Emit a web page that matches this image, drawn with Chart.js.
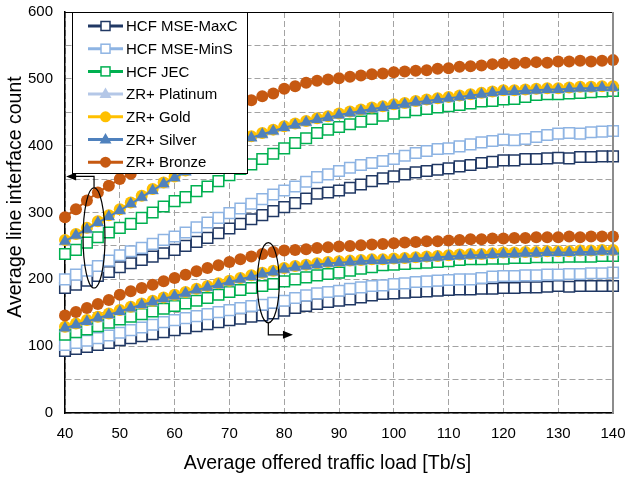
<!DOCTYPE html>
<html>
<head>
<meta charset="utf-8">
<script src="https://cdn.jsdelivr.net/npm/chart.js@4.4.0/dist/chart.umd.min.js"></script>
<style>
  html, body { margin: 0; padding: 0; background: #fff; }
  #wrap { position: relative; width: 626px; height: 479px; }
</style>
</head>
<body>
<div id="wrap"><canvas id="chart"></canvas></div>
<script>
// Offered load (x) for every sample
const loads = [40,42,44,46,48,50,52,54,56,58,60,62,64,66,68,70,72,74,76,78,80,82,84,86,88,90,92,94,96,98,100,102,104,106,108,110,112,114,116,118,120,122,124,126,128,130,132,134,136,138,140];

// Upper group (left axis)
const maxcUpper = [187,192,198,205,211,218,224,229,234,239,244,250,256,262,269,276,283,290,296,302,308,314,321,328,330,333,337,342,347,351,354,357,360,362,364,366,369,371,374,376,378,378,380,380,381,382,381,383,383,384,384];
const minsUpper = [200,207,213,220,228,236,242,247,253,259,264,270,278,285,292,299,306,313,320,327,333,339,346,353,357,362,367,371,374,377,380,385,389,392,395,396,399,402,405,407,409,408,410,413,416,418,419,418,420,421,422];
const jecUpper = [238,244,255,263,270,277,283,292,300,309,317,323,332,339,347,356,365,372,380,388,396,404,411,419,424,428,432,436,440,445,448,450,453,455,457,459,461,463,466,467,469,470,473,476,477,477,478,479,480,481,482];
const platinumUpper = [256,265,274,284,293,302,312,322,332,341,351,360,369,379,388,397,405,411,416,421,426,430,434,438,441,445,448,451,454,456,459,461,464,466,468,470,472,474,476,478,480,480,481,482,483,483,484,485,485,486,486];
const goldUpper = [259,268,277,287,296,305,315,325,335,345,354,363,372,382,391,400,408,414,419,424,429,433,437,441,444,448,451,454,457,459,462,464,467,469,471,473,475,477,479,481,483,483,484,485,486,486,487,488,488,489,489];
const silverUpper = [257,266,275,285,294,303,313,323,333,343,352,361,370,380,389,398,406,412,417,422,427,431,435,439,442,446,449,452,455,457,460,462,465,467,469,471,473,475,477,479,481,481,482,483,484,484,485,486,486,487,487];
const bronzeUpper = [293,305,318,330,340,350,358,370,382,396,408,417,426,436,444,452,460,468,474,478,485,489,494,497,499,501,503,505,507,508,510,511,512,513,515,516,518,519,520,522,523,523,524,525,524,526,526,527,526,527,528];

// Lower group (right axis)
const maxcLower = [93,96,99,102,105,109,112,115,118,121,124,127,130,133,136,139,141,144,146,149,153,157,160,163,166,168,170,173,176,178,179,180,181,182,183,184,185,185,186,186,187,187,188,188,189,190,189,190,190,190,190];
const minsLower = [102,105,108,112,116,120,124,128,132,136,139,142,145,148,151,154,157,160,162,165,168,172,176,179,181,183,186,188,190,191,193,194,196,197,198,199,200,200,202,204,205,205,206,206,207,207,208,208,209,209,210];
const jecLower = [117,121,125,130,135,140,144,148,152,156,160,164,168,172,177,181,184,187,190,193,197,200,203,206,208,210,213,216,218,221,222,223,224,225,226,227,229,230,230,231,231,232,232,233,233,233,234,234,234,235,235];
const platinumLower = [126,131,136,141,146,151,156,161,165,170,174,178,183,187,191,195,199,203,207,210,214,217,219,221,223,224,225,226,227,227,228,229,230,231,232,233,234,235,235,236,237,237,238,238,239,239,239,240,240,241,241];
const goldLower = [129,134,139,144,149,154,159,164,168,173,177,181,186,190,194,198,202,206,210,213,217,220,222,224,226,227,228,229,230,230,231,232,233,234,235,236,237,238,238,239,240,240,241,241,242,242,242,243,243,244,244];
const silverLower = [127,132,137,142,147,152,157,162,166,171,175,179,184,188,192,196,200,204,208,211,215,218,220,222,224,225,226,227,228,228,229,230,231,232,233,234,235,236,236,237,238,238,239,239,240,240,240,241,241,242,242];
const bronzeLower = [146,151,157,163,169,177,182,187,192,197,202,207,212,217,221,226,230,234,238,241,243,244,245,247,248,249,250,251,252,253,254,255,256,257,257,258,259,260,260,261,261,262,262,263,263,263,264,263,264,264,264];

const seriesNames = ['HCF MSE-MaxC', 'HCF MSE-MinS', 'HCF JEC', 'ZR+ Platinum', 'ZR+ Gold', 'ZR+ Silver', 'ZR+ Bronze'];
const seriesColors = ['#203864', '#8EB4E3', '#00B050', '#B4C7E7', '#FFC000', '#4F81BD', '#C65911'];
const seriesMarkers = ['rect', 'rect', 'rect', 'triangle', 'circle', 'triangle', 'circle'];
const upperSeries = [maxcUpper, minsUpper, jecUpper, platinumUpper, goldUpper, silverUpper, bronzeUpper];
const lowerSeries = [maxcLower, minsLower, jecLower, platinumLower, goldLower, silverLower, bronzeLower];

const xTicks = [40, 50, 60, 70, 80, 90, 100, 110, 120, 130, 140];
const yTicks = [0, 100, 200, 300, 400, 500, 600];
const xTitle = 'Average offered traffic load [Tb/s]';
const yTitle = 'Average line interface count';

// group markers (data units): ellipse centre, half sizes, arrow elbow / end
const leftMark = { x: 45.3, y: 262, rx: 2, ry: 75, elbowY: 354, toX: 40.2 };
const rightMark = { x: 77.1, y: 195, rx: 2, ry: 60, elbowY: 117, toX: 81.6 };

const FONT = "'Liberation Sans', Arial, sans-serif";

function pointRadius(marker) {
    if (marker === 'rect') return 7.5;
    if (marker === 'triangle') return 7;
    return 6;
}

function makeDataset(i, values) {
    const marker = seriesMarkers[i];
    const hollow = marker === 'rect';
    return {
        label: seriesNames[i],
        data: loads.map((x, k) => ({ x: x, y: values[k] })),
        borderColor: seriesColors[i],
        backgroundColor: seriesColors[i],
        borderWidth: 2,
        pointStyle: marker,
        pointRadius: pointRadius(marker),
        pointBorderWidth: hollow ? 1.5 : 0,
        pointBackgroundColor: hollow ? '#ffffff' : seriesColors[i],
        pointBorderColor: seriesColors[i],
        tension: 0,
        fill: false,
        clip: false,
        order: 6 - i
    };
}

const datasets = [];
upperSeries.forEach((vals, i) => datasets.push(makeDataset(i, vals)));
lowerSeries.forEach((vals, i) => datasets.push(makeDataset(i, vals)));

function drawMarker(ctx, marker, color, x, y) {
    ctx.save();
    ctx.fillStyle = color;
    ctx.strokeStyle = color;
    if (marker === 'rect') {
        ctx.fillStyle = '#fff';
        ctx.lineWidth = 1.5;
        ctx.fillRect(x - 4.5, y - 4.5, 9, 9);
        ctx.strokeRect(x - 4.5, y - 4.5, 9, 9);
    } else if (marker === 'circle') {
        ctx.beginPath();
        ctx.arc(x, y, 5.5, 0, Math.PI * 2);
        ctx.fill();
    } else {
        ctx.beginPath();
        ctx.moveTo(x, y - 6.5);
        ctx.lineTo(x + 6, y + 4);
        ctx.lineTo(x - 6, y + 4);
        ctx.closePath();
        ctx.fill();
    }
    ctx.restore();
}

function arrowHead(ctx, x, y, dir) {
    ctx.beginPath();
    ctx.moveTo(x, y);
    ctx.lineTo(x - dir * 10, y - 4);
    ctx.lineTo(x - dir * 10, y + 4);
    ctx.closePath();
    ctx.fill();
}

const decorPlugin = {
    id: 'decor',
    afterDraw(chart) {
        const ctx = chart.ctx;
        const area = chart.chartArea;
        const xs = chart.scales.x;
        const ys = chart.scales.y;

        // frame top and right
        ctx.save();
        ctx.strokeStyle = '#000';
        ctx.lineWidth = 1;
        ctx.beginPath();
        ctx.moveTo(area.left, area.top + 0.5);
        ctx.lineTo(area.right, area.top + 0.5);
        ctx.stroke();
        ctx.strokeStyle = '#8c8c8c';
        ctx.lineWidth = 2;
        ctx.beginPath();
        ctx.moveTo(area.right, area.top);
        ctx.lineTo(area.right, area.bottom);
        ctx.stroke();
        ctx.restore();

        // axis titles (slightly off-centre, as in the original figure)
        ctx.save();
        ctx.fillStyle = '#000';
        ctx.font = '19.5px ' + FONT;
        ctx.textAlign = 'center';
        ctx.textBaseline = 'middle';
        ctx.fillText(xTitle, 327.5, 464);
        ctx.translate(16, 197);
        ctx.rotate(-Math.PI / 2);
        ctx.fillText(yTitle, 0, 0);
        ctx.restore();

        // group ellipses and arrows
        ctx.save();
        ctx.strokeStyle = '#000';
        ctx.fillStyle = '#000';
        ctx.lineWidth = 1.2;
        [leftMark, rightMark].forEach((m, idx) => {
            const cx = xs.getPixelForValue(m.x);
            const cy = ys.getPixelForValue(m.y);
            const rx = xs.getPixelForValue(m.x + m.rx) - cx;
            const ry = cy - ys.getPixelForValue(m.y + m.ry);
            ctx.beginPath();
            ctx.ellipse(cx, cy, rx, ry, 0, 0, Math.PI * 2);
            ctx.stroke();
            const startY = idx === 0 ? cy - ry : cy + ry;
            const elbow = ys.getPixelForValue(m.elbowY);
            const endX = xs.getPixelForValue(m.toX);
            const dir = endX > cx ? 1 : -1;
            ctx.beginPath();
            ctx.moveTo(cx, startY);
            ctx.lineTo(cx, elbow);
            ctx.lineTo(endX - dir * 8, elbow);
            ctx.stroke();
            arrowHead(ctx, endX, elbow, dir);
        });
        ctx.restore();

        // legend box
        const box = { left: 72, top: 12, right: 247, bottom: 173 };
        ctx.save();
        ctx.fillStyle = '#fff';
        ctx.fillRect(box.left, box.top, box.right - box.left, box.bottom - box.top);
        ctx.strokeStyle = '#000';
        ctx.lineWidth = 1;
        ctx.strokeRect(box.left + 0.5, box.top + 0.5, box.right - box.left, box.bottom - box.top);
        ctx.font = '15px ' + FONT;
        ctx.textBaseline = 'middle';
        ctx.textAlign = 'left';
        seriesNames.forEach((name, i) => {
            const y = 26 + i * 22.7;
            ctx.strokeStyle = seriesColors[i];
            ctx.lineWidth = 3;
            ctx.beginPath();
            ctx.moveTo(88, y);
            ctx.lineTo(123, y);
            ctx.stroke();
            drawMarker(ctx, seriesMarkers[i], seriesColors[i], 105.5, y);
            ctx.fillStyle = '#000';
            ctx.fillText(name, 126, y + 1);
        });
        ctx.restore();
    }
};

const gridColor = '#a3a3a3';

new Chart(document.getElementById('chart').getContext('2d'), {
    type: 'line',
    data: { datasets: datasets },
    options: {
        responsive: true,
        maintainAspectRatio: false,
        animation: false,
        layout: { padding: { top: 12, right: 13, left: 0, bottom: 0 } },
        plugins: {
            legend: { display: false },
            tooltip: { enabled: false }
        },
        scales: {
            x: {
                type: 'linear',
                min: xTicks[0],
                max: xTicks[xTicks.length - 1],
                afterFit: function(scale) {
                    scale.height = 66;
                    scale.paddingLeft = 0;
                    scale.paddingRight = 0;
                },
                ticks: {
                    stepSize: 10,
                    padding: 12,
                    color: '#000',
                    font: { family: FONT, size: 15 }
                },
                grid: { color: gridColor, lineWidth: 1, drawTicks: false },
                border: { display: true, color: '#000', width: 1.5, dash: [6, 3] }
            },
            y: {
                min: yTicks[0],
                max: yTicks[yTicks.length - 1],
                afterFit: function(scale) {
                    scale.width = 65;
                    scale.paddingTop = 0;
                    scale.paddingBottom = 0;
                },
                ticks: {
                    stepSize: 50,
                    padding: 12,
                    color: '#000',
                    font: { family: FONT, size: 15 },
                    callback: function(value) {
                        return yTicks.includes(value) ? value : '';
                    }
                },
                grid: { color: gridColor, lineWidth: 1, drawTicks: false },
                border: { display: true, color: '#000', width: 1.5, dash: [6, 3] }
            }
        }
    },
    plugins: [decorPlugin]
});
</script>
</body>
</html>
